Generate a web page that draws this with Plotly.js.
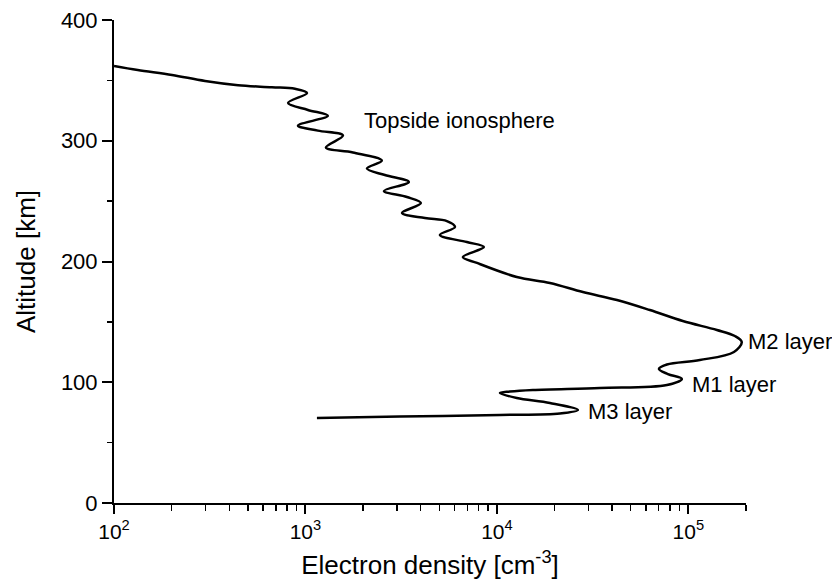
<!DOCTYPE html>
<html>
<head>
<meta charset="utf-8">
<script src="https://cdn.plot.ly/plotly-3.0.1.min.js"></script>
<style>
  html, body { margin: 0; padding: 0; background: #ffffff; }
  #chart { width: 832px; height: 588px; }
</style>
</head>
<body>
<div id="chart"></div>
<script>
// Electron density profile [cm^-3] versus altitude [km]
const density = [
  100, 133, 201, 299, 445, 668, 881,
  1019, 811, 1030, 1309, 914, 1161, 1570, 1279, 1770, 2506, 2094, 2600,
  3467, 2570, 3388, 4009, 3192, 4207, 5483, 6039, 5035, 6966, 8551, 6637,
  7870, 12700, 18920, 28120, 42360, 62950, 93540, 140900, 175000, 190100,
  173000, 114800, 77270, 70150, 78160, 92470, 77270, 34510, 15420, 11700,
  10370, 12700, 18920, 26490, 21330, 10370, 3112, 1148
];
const altitude = [
  362, 358.6, 354.5, 349.5, 346, 344.3, 343,
  339.5, 331.3, 325.5, 320.7, 312.5, 308.4, 304.3, 294.4, 290.3, 283.6, 277, 271.6,
  265.8, 258.4, 253.4, 248.4, 240.2, 236, 233.5, 228.6, 222, 216.1, 212, 203.7,
  198.8, 187.2, 182.2, 174.7, 168.1, 159.8, 150.7, 143.3, 138.3, 133.3,
  125.1, 118.4, 114.7, 111, 106.8, 102.7, 97.7, 95.2, 93.6, 92.3,
  91.1, 87, 82.8, 77, 74.1, 72.9, 71.6, 70.4
];

// Tick definitions
const xTickVals = [1e2, 1e3, 1e4, 1e5];
const xTickText = ['10<sup>2</sup>', '10<sup>3</sup>', '10<sup>4</sup>', '10<sup>5</sup>'];
const xMinorVals = [200, 300, 400, 500, 600, 700, 800, 900,
                    2000, 3000, 4000, 5000, 6000, 7000, 8000, 9000,
                    20000, 30000, 40000, 50000, 60000, 70000, 80000, 90000,
                    200000];
const yTickVals = [0, 100, 200, 300, 400];
const yMinorVals = [50, 150, 250, 350];

// Layer labels
const labelText = ['Topside ionosphere', 'M2 layer', 'M1 layer', 'M3 layer'];
const labelDensity = [1970, 199000, 101800, 29200];
const labelAltitude = [317, 133.5, 98.5, 76];

const font = 'Liberation Sans, Arial, Helvetica, sans-serif';

const trace = {
  x: density,
  y: altitude,
  type: 'scatter',
  mode: 'lines',
  line: { color: '#000000', width: 2.5, shape: 'spline', smoothing: 1 },
  hoverinfo: 'skip'
};

const annotations = labelText.map((t, i) => ({
  text: t,
  x: Math.log10(labelDensity[i]),
  y: labelAltitude[i],
  xref: 'x', yref: 'y',
  xanchor: 'left', yanchor: 'middle',
  showarrow: false,
  font: { family: font, size: 22, color: '#000000' }
}));

const layout = {
  width: 832,
  height: 588,
  margin: { l: 114, r: 86, t: 20, b: 85 },
  paper_bgcolor: '#ffffff',
  plot_bgcolor: '#ffffff',
  showlegend: false,
  font: { family: font, color: '#000000' },
  xaxis: {
    type: 'log',
    range: [2, Math.log10(2e5)],
    showgrid: false,
    zeroline: false,
    showline: true,
    linecolor: '#000000',
    linewidth: 2,
    ticks: 'outside',
    ticklen: 9,
    tickwidth: 2,
    tickcolor: '#000000',
    tickvals: xTickVals,
    ticktext: xTickText,
    tickfont: { family: font, size: 21, color: '#000000' },
    minor: { tickvals: xMinorVals, ticks: 'outside', ticklen: 6, tickwidth: 1.5, tickcolor: '#000000', showgrid: false },
    title: { text: 'Electron density [cm<sup>-3</sup>]', font: { family: font, size: 26, color: '#000000' }, standoff: 14 },
    fixedrange: true
  },
  yaxis: {
    range: [0, 400],
    showgrid: false,
    zeroline: false,
    showline: true,
    linecolor: '#000000',
    linewidth: 2,
    ticks: 'outside',
    ticklen: 10,
    tickwidth: 2,
    tickcolor: '#000000',
    tickvals: yTickVals,
    tickfont: { family: font, size: 22, color: '#000000' },
    minor: { tickvals: yMinorVals, ticks: 'outside', ticklen: 5, tickwidth: 1.5, tickcolor: '#000000', showgrid: false },
    title: { text: 'Altitude [km]', font: { family: font, size: 26, color: '#000000' }, standoff: 18 },
    fixedrange: true
  },
  annotations: annotations
};

Plotly.newPlot('chart', [trace], layout, { displayModeBar: false, staticPlot: true });
</script>
</body>
</html>
